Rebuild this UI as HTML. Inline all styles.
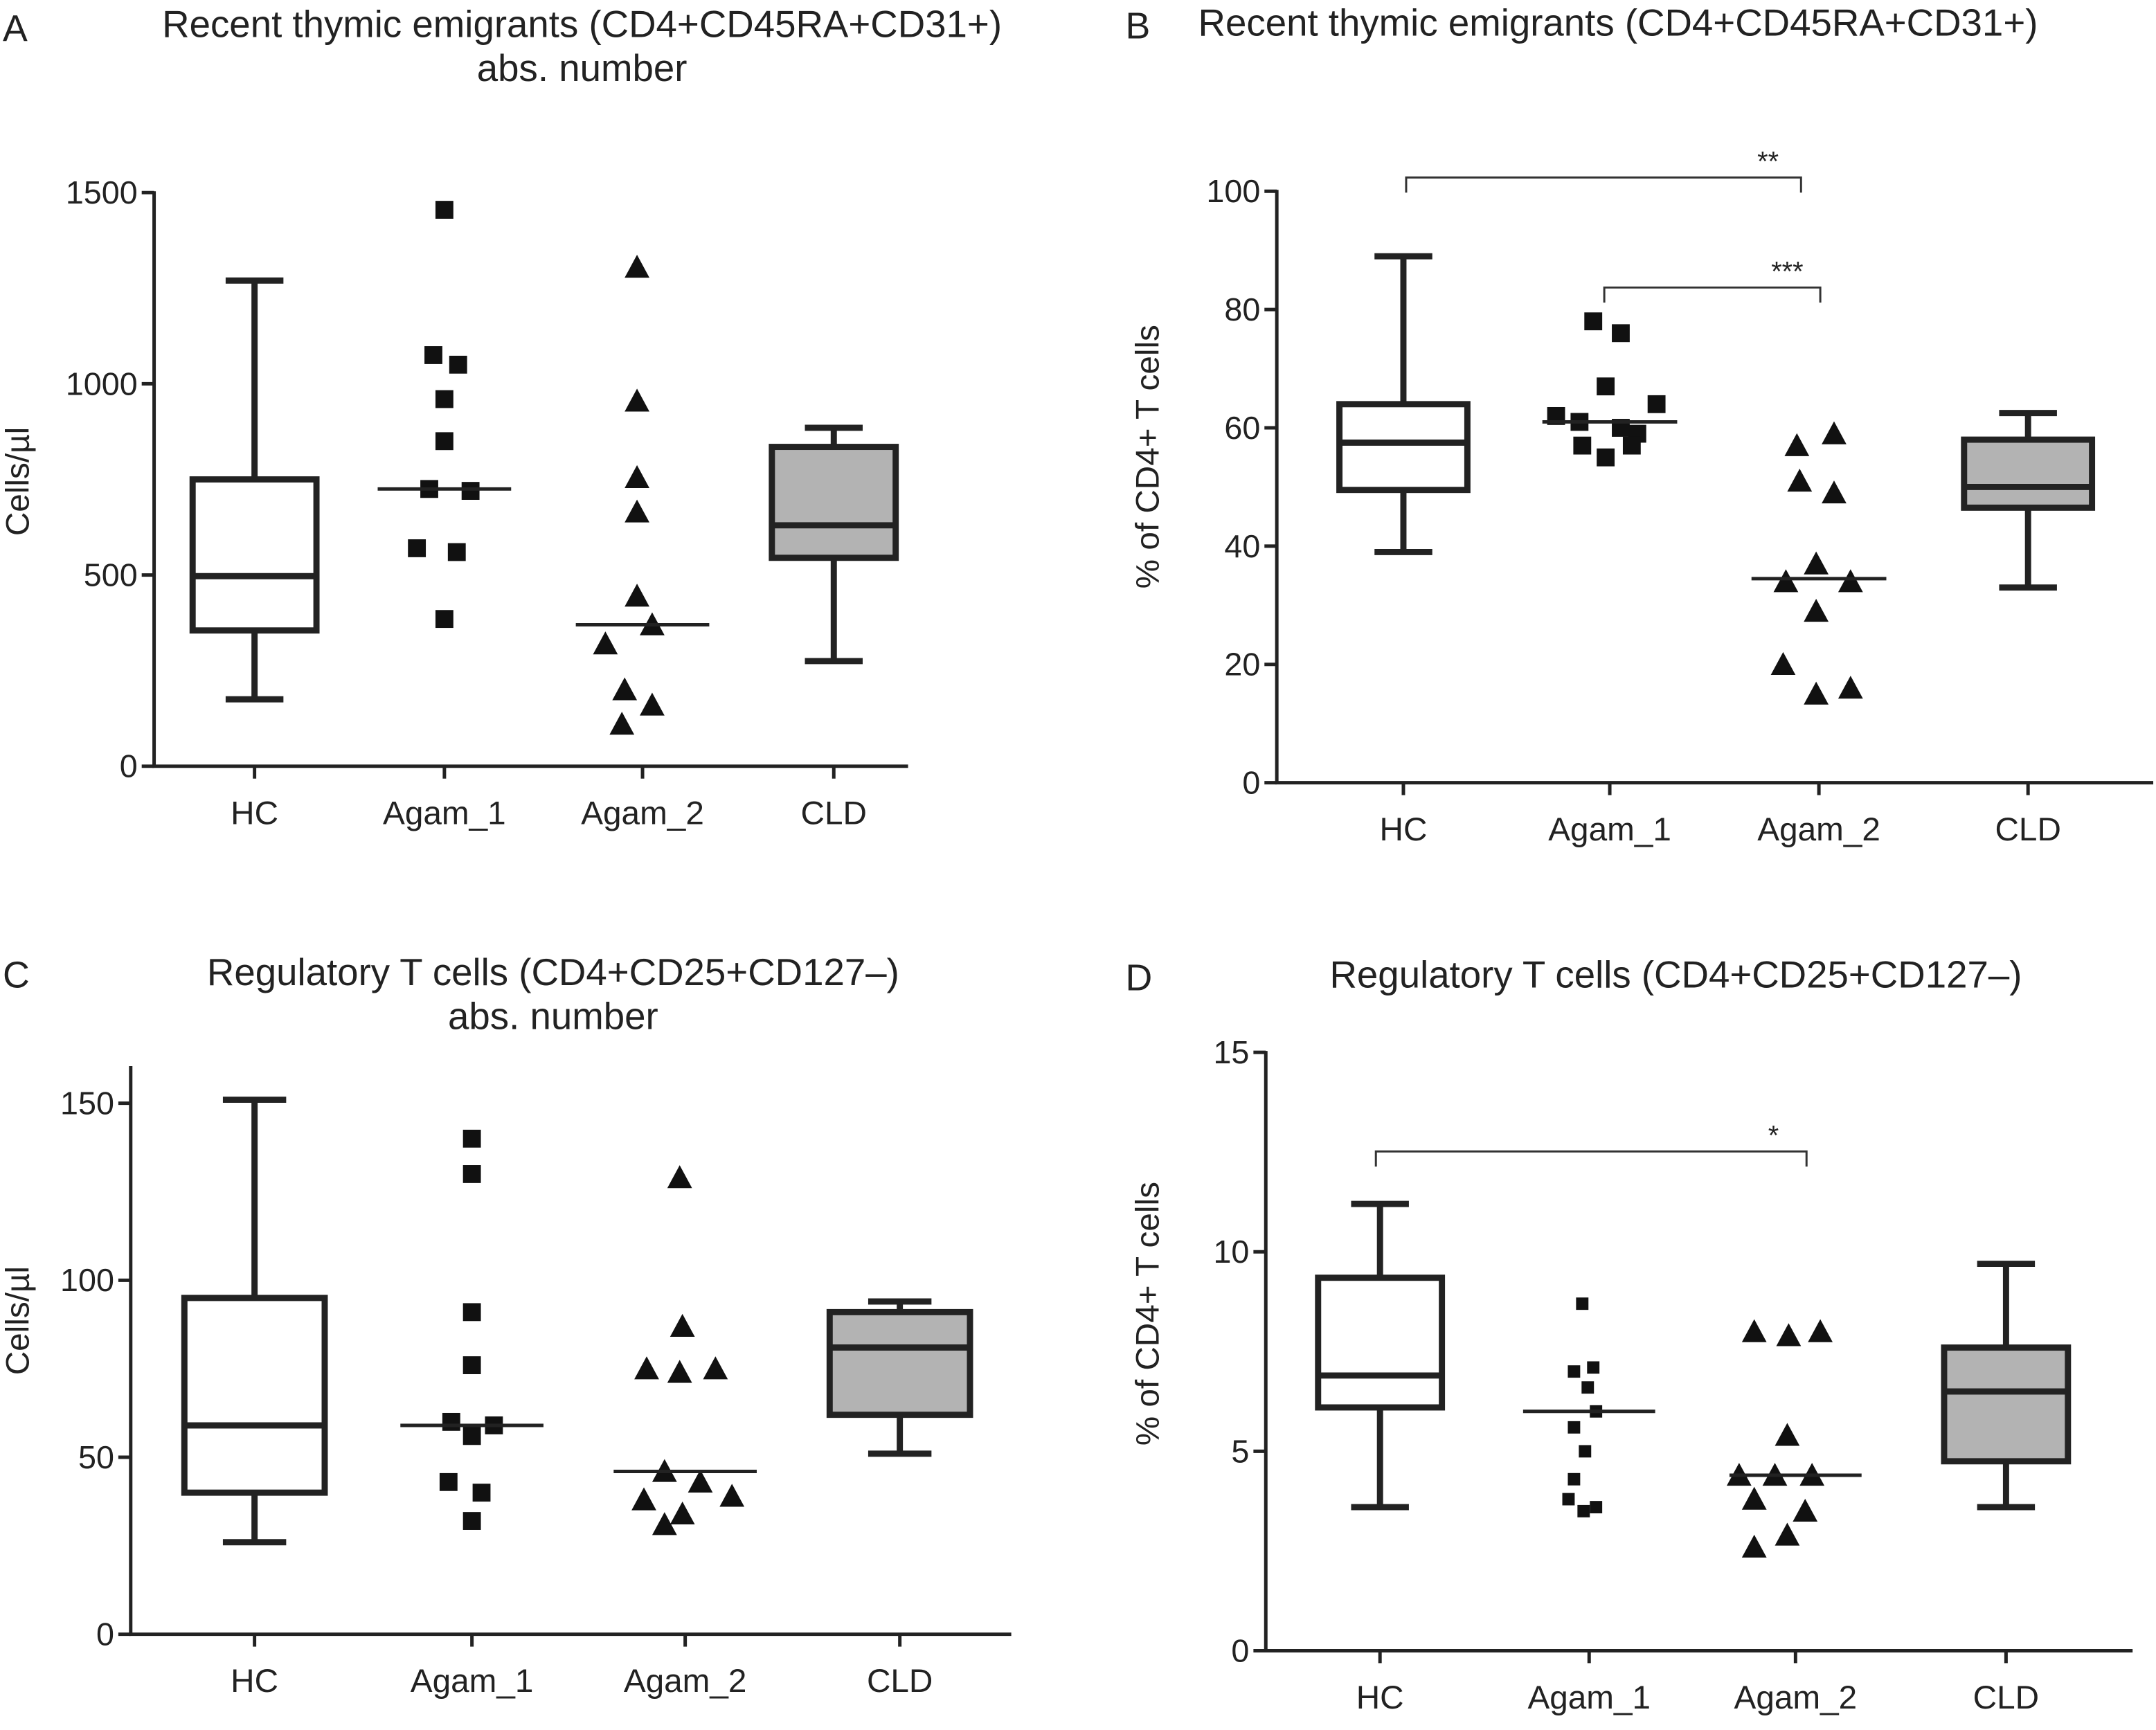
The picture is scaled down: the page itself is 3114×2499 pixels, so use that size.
<!DOCTYPE html>
<html><head><meta charset="utf-8">
<style>
html,body{margin:0;padding:0;background:#fff;}
svg{display:block;}
text{font-family:"Liberation Sans",Arial,sans-serif;fill:#222;}
</style></head>
<body>
<svg id="fig" width="3114" height="2499" viewBox="0 0 1567 1257.6" preserveAspectRatio="none" xmlns="http://www.w3.org/2000/svg"></svg>
<script>
// ---------- Data ----------
const categories = ["HC","Agam_1","Agam_2","CLD"];
// Panel A
const aTicks = [0,500,1000,1500];
const aHC = [175,355,497,750,1270];
const aCLD = [275,545,630,835,885];
const aAgam1 = [1455,1075,1050,960,850,725,720,570,560,385];
const aAgam1Median = 725;
const aAgam2 = [1305,955,755,665,445,370,320,200,160,110];
const aAgam2Median = 370;
// Panel B
const bTicks = [0,20,40,60,80,100];
const bHC = [39,49.5,57.5,64,89];
const bCLD = [33,46.5,50,58,62.5];
const bAgam1 = [78,76,67,64,62,61,60,59,57,57,55];
const bAgam1Median = 61;
const bAgam2 = [59,57,51,49,37,34,34,29,20,16,15];
const bAgam2Median = 34.5;
// Panel C
const cTicks = [0,50,100,150];
const cHC = [26,40,59,95,151];
const cCLD = [51,62,81,91,94];
const cAgam1 = [140,130,91,76,60,59,56,43,40,32];
const cAgam1Median = 59;
const cAgam2 = [129,87,75,75,74,46,43,39,38,34,31];
const cAgam2Median = 46;
// Panel D
const dTicks = [0,5,10,15];
const dHC = [3.6,6.1,6.9,9.35,11.2];
const dCLD = [3.6,4.75,6.5,7.6,9.7];
const dAgam1 = [8.7,7.1,7.0,6.6,6.0,5.6,5.0,4.3,3.8,3.6,3.5];
const dAgam1Median = 6.0;
const dAgam2 = [8.0,7.9,8.0,5.4,4.4,4.4,4.4,3.8,3.5,2.9,2.6];
const dAgam2Median = 4.4;

// jitter offsets (layout, px)
const jA1=[0,-8,10,0,0,-11,19,-20,9,0], jA2=[-4,-4,-4,-4,-4,7,-27,-13,7,-15];
const jB1=[-12,8,-3,34,-39,-22,8,20,-20,16,-3], jB2=[11,-16,-14,11,-2,-24,23,-2,-26,23,-2];
const jC1=[0,0,0,0,-15,16,0,-17,7,0], jC2=[-4,-2,-28,22,-4,-15,11,34,-30,-2,-15];
const jD1=[-5,3,-11,-1,5,-11,-3,-11,-15,5,-4], jD2=[-30,-5,18,-6,-41,-15,12,-30,7,-6,-30];

const NS="http://www.w3.org/2000/svg";
const svg=document.getElementById('fig');
function el(tag,attrs,parent){const e=document.createElementNS(NS,tag);for(const k in attrs)e.setAttribute(k,attrs[k]);(parent||svg).appendChild(e);return e;}

function panel(cfg){
  const g=el('g',{});
  
  
  const y=v=>cfg.y0-(v-cfg.min)/(cfg.max-cfg.min)*(cfg.y0-cfg.y1);
  const x=i=>cfg.xs[i];
  const L=el('text',{x:cfg.letter[0],y:cfg.letter[1],'font-size':27},g);L.textContent=cfg.id.toUpperCase();
  
  
  cfg.title.forEach((t,k)=>{const T=el('text',{x:cfg.tx,y:cfg.ty+k*32,'font-size':27.5,'text-anchor':'middle'},g);T.textContent=t;
    
    });
  const top=cfg.axTop!==undefined?cfg.axTop:cfg.y1-1;
  const ax=el('path',{d:`M${cfg.ax},${top}V${cfg.y0}H${cfg.xend}`,stroke:'#222','stroke-width':2.5,fill:'none'},g);
  
  
  cfg.ticks.forEach(t=>{el('line',{x1:cfg.ax-9,x2:cfg.ax,y1:y(t),y2:y(t),stroke:'#222','stroke-width':2.5},g);
    const T=el('text',{x:cfg.ax-12,y:y(t)+8,'font-size':23.5,'text-anchor':'end'},g);T.textContent=t;
    
    });
  categories.forEach((c,i)=>{el('line',{x1:x(i),x2:x(i),y1:cfg.y0,y2:cfg.y0+9,stroke:'#222','stroke-width':2.5},g);
    const T=el('text',{x:x(i),y:cfg.y0+42,'font-size':24,'text-anchor':'middle'},g);T.textContent=c;
    
    });
  const yl=el('text',{x:0,y:0,'font-size':24,'text-anchor':'middle',transform:`translate(${cfg.yl[0]},${cfg.yl[1]}) rotate(-90)`},g);
  yl.textContent=cfg.ylabel;
  
  
  [[0,cfg.hc,'#fff'],[3,cfg.cld,'#b3b3b3']].forEach(([i,s,fill])=>{
    const bw=cfg.bw, cw=cfg.cw, cx=x(i);
    const bg=el('g',{stroke:'#222','stroke-width':4.5,fill:'none'},g);
    
    
    el('line',{x1:cx,x2:cx,y1:y(s[0]),y2:y(s[4])},bg);
    el('line',{x1:cx-cw/2,x2:cx+cw/2,y1:y(s[0]),y2:y(s[0])},bg);
    el('line',{x1:cx-cw/2,x2:cx+cw/2,y1:y(s[4]),y2:y(s[4])},bg);
    el('rect',{x:cx-bw/2,y:y(s[3]),width:bw,height:y(s[1])-y(s[3]),fill:fill},bg);
    el('line',{x1:cx-bw/2,x2:cx+bw/2,y1:y(s[2]),y2:y(s[2])},bg);
  });
  [[1,cfg.a1,cfg.j1,cfg.m1,'sq'],[2,cfg.a2,cfg.j2,cfg.m2,'tri']].forEach(([i,vals,j,med,shape])=>{
    vals.forEach((v,k)=>{
      const px=x(i)+j[k], py=y(v); let m;
      if(shape==='sq'){const s=cfg.sq;m=el('rect',{x:px-s/2,y:py-s/2,width:s,height:s,fill:'#111'},g);}
      else{const s=9;m=el('polygon',{points:`${px},${py-s} ${px-s},${py+s*0.85} ${px+s},${py+s*0.85}`,fill:'#111'},g);}
      
      
    });
    const ml=el('line',{x1:x(i)-cfg.ml/2,x2:x(i)+cfg.ml/2,y1:y(med),y2:y(med),stroke:'#222','stroke-width':2.5},g);
    
    
  });
  (cfg.brackets||[]).forEach(b=>{
    const bp=el('path',{d:`M${b[0]},${b[2]+11}V${b[2]}H${b[1]}V${b[2]+11}`,stroke:'#333','stroke-width':1.5,fill:'none'},g);
    
    
    const t=el('text',{x:b[1]-24,y:b[2]-5,'font-size':20,'text-anchor':'middle','font-family':'Liberation Serif'},g);t.textContent=b[3];
    
    
  });
}

panel({id:'a',letter:[2,30],title:['Recent thymic emigrants (CD4+CD45RA+CD31+)','abs. number'],tx:423,ty:27,
  ax:112,xend:660,y0:557,y1:140,min:0,max:1500,ticks:aTicks,xs:[185,323,467,606],ylabel:'Cells/µl',yl:[21,350],
  bw:90,cw:42,ml:97,sq:13,hc:aHC,cld:aCLD,a1:aAgam1,j1:jA1,m1:aAgam1Median,a2:aAgam2,j2:jA2,m2:aAgam2Median});
panel({id:'b',letter:[818,28],title:['Recent thymic emigrants (CD4+CD45RA+CD31+)'],tx:1176,ty:26,
  ax:928,xend:1565,y0:569,y1:139,min:0,max:100,ticks:bTicks,xs:[1020,1170,1322,1474],ylabel:'% of CD4+ T cells',yl:[842,332],
  bw:93,cw:42,ml:98,sq:13,hc:bHC,cld:bCLD,a1:bAgam1,j1:jB1,m1:bAgam1Median,a2:bAgam2,j2:jB2,m2:bAgam2Median,
  brackets:[[1022,1309,129,'**'],[1166,1323,209,'***']]});
panel({id:'c',letter:[2,718],title:['Regulatory T cells (CD4+CD25+CD127–)','abs. number'],tx:402,ty:716,
  ax:95,xend:735,y0:1188,y1:802,axTop:775,min:0,max:150,ticks:cTicks,xs:[185,343,498,654],ylabel:'Cells/µl',yl:[21,960],
  bw:102,cw:46,ml:104,sq:13,hc:cHC,cld:cCLD,a1:cAgam1,j1:jC1,m1:cAgam1Median,a2:cAgam2,j2:jC2,m2:cAgam2Median});
panel({id:'d',letter:[818,720],title:['Regulatory T cells (CD4+CD25+CD127–)'],tx:1218,ty:718,
  ax:920,xend:1550,y0:1200,y1:765,min:0,max:15,ticks:dTicks,xs:[1003,1155,1305,1458],ylabel:'% of CD4+ T cells',yl:[842,955],
  bw:90,cw:42,ml:96,sq:9,hc:dHC,cld:dCLD,a1:dAgam1,j1:jD1,m1:dAgam1Median,a2:dAgam2,j2:jD2,m2:dAgam2Median,
  brackets:[[1000,1313,837,'*']]});
</script>
</body></html>
